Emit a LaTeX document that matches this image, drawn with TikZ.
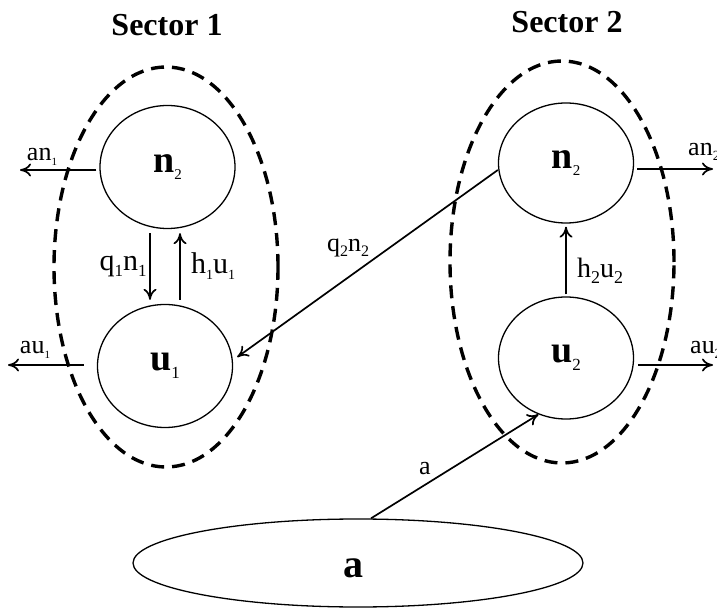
\documentclass[tikz,border=0pt]{standalone}
\usepackage{fontspec}
\setmainfont{Liberation Serif}
\usetikzlibrary{shapes.geometric,arrows.meta}
\newcommand{\ssub}[2]{\raisebox{-0.2em}{\mdseries\fontsize{#1}{#1}\selectfont #2}}
\begin{document}
\begin{tikzpicture}[x=1pt,y=1pt,
  comp/.style={ellipse, draw, line width=1.3pt, inner sep=0pt,
    minimum width=135pt, minimum height=123pt,
    font=\fontsize{38}{38}\selectfont\bfseries},
  sectorbox/.style={ellipse, draw, line width=3.4pt, dash pattern=on 13pt off 8pt,
    inner sep=0pt, minimum width=224pt, minimum height=400pt},
  arr/.style={-{To[length=11pt,width=13pt]}, line width=1.7pt},
  lbl/.style={font=\fontsize{26}{26}\selectfont, inner sep=0pt},
  biglbl/.style={font=\fontsize{30}{30}\selectfont, inner sep=0pt},
  title/.style={font=\fontsize{32}{32}\selectfont\bfseries, inner sep=0pt}
]
\useasboundingbox (0,0) rectangle (717,608);

% sector titles
\node[title] (t1) at (167,583) {Sector 1};
\node[title] (t2) at (567,586) {Sector 2};

% dashed sector boundaries
\node[sectorbox] (S1) at (166,341) {};
\node[sectorbox, minimum height=402pt] (S2) at (562,346) {};

% compartments
\node[comp] (n2L) at (167.5,441) {n\ssub{15}{2}};
\node[comp] (u1) at (165,242) {u\ssub{17}{1}};
\node[comp, minimum height=120pt] (n2R) at (566,445) {n\ssub{15}{2}};
\node[comp, minimum height=122pt] (u2) at (566,250) {u\ssub{17}{2}};

% bottom pool
\node[ellipse, draw, line width=1.3pt, inner sep=0pt, minimum width=450pt, minimum height=88pt] (A) at (358,45) {};
\node[font=\fontsize{40}{40}\selectfont\bfseries, inner sep=0pt] (Alab) at (353,40) {a};

% free ends
\coordinate (an1e) at (20,438);
\coordinate (au1e) at (8,243);
\coordinate (an2e) at (713,439);
\coordinate (au2e) at (713,243);

% outflows
\draw[arr] ([xshift=-3pt]n2L.west |- an1e) -- (an1e);
\draw[arr] ([xshift=-13pt]u1.west |- au1e) -- (au1e);
\draw[arr] ([xshift=3pt]n2R.east |- an2e) -- (an2e);
\draw[arr] ([xshift=4pt]u2.east |- au2e) -- (au2e);

% internal flows sector 1
\draw[arr] ([xshift=-17.5pt,yshift=-4pt]n2L.south) -- ([xshift=-15pt,yshift=4pt]u1.north);
\draw[arr] ([xshift=15pt,yshift=4pt]u1.north) -- ([xshift=12.5pt,yshift=-4pt]n2L.south);

% sector 2 internal
\draw[arr] ([yshift=2pt]u2.north) -- ([yshift=-3pt]n2R.south);

% cross-sector
\draw[arr, shorten >=5pt] ([yshift=-7pt]n2R.west) -- ([yshift=6pt]u1.east);

% input from pool
\draw[arr] ([xshift=13pt]A.north) -- (u2.244);

% labels
\node[lbl] (l_an1) at (42,451) {an\ssub{11}{1}};
\node[lbl] (l_au1) at (35,258) {au\ssub{11}{1}};
\node[lbl, anchor=west] (l_an2) at (688,456) {an\ssub{14}{2}};
\node[lbl, anchor=west] (l_au2) at (690,258) {au\ssub{14}{2}};
\node[biglbl] (l_q1) at (123,342) {q\ssub{17}{1}n\ssub{17}{1}};
\node[biglbl] (l_h1) at (213,342) {h\ssub{14}{1}u\ssub{14}{1}};
\node[lbl] (l_q2) at (348,360) {q\ssub{16}{2}n\ssub{16}{2}};
\node[font=\fontsize{28}{28}\selectfont, inner sep=0pt] (l_h2) at (600,337) {h\ssub{18}{2}u\ssub{18}{2}};
\node[lbl] (l_a) at (425,139) {a};
\end{tikzpicture}
\end{document}
